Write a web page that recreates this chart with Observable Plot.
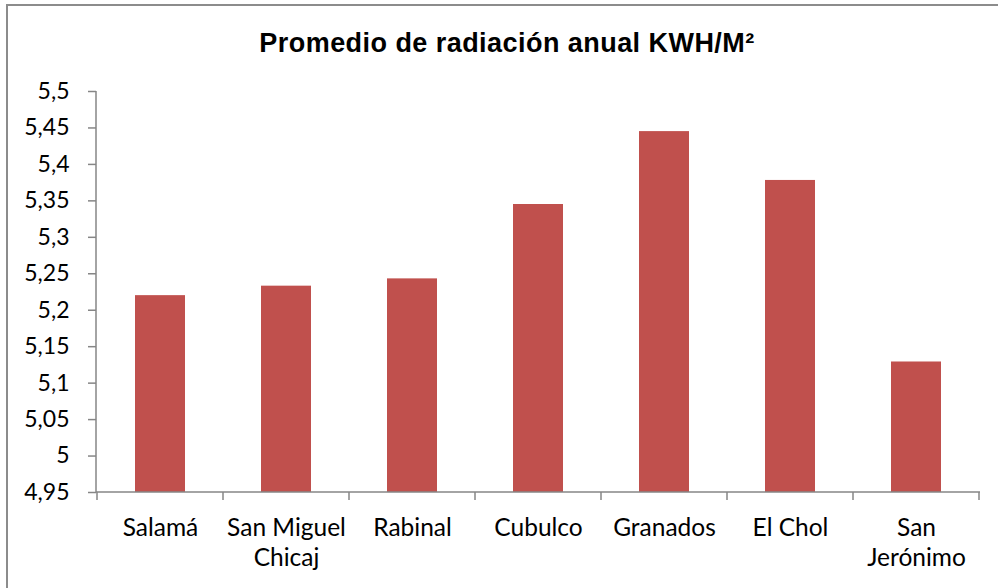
<!DOCTYPE html>
<html>
<head>
<meta charset="utf-8">
<script src="https://cdn.jsdelivr.net/npm/d3@7"></script>
<script src="https://cdn.jsdelivr.net/npm/@observablehq/plot@0.6"></script>
<style>
  html, body { margin: 0; padding: 0; background: #fff; }
  #wrap { position: relative; width: 998px; height: 588px; overflow: hidden; }
  #frame { position: absolute; left: 6px; top: 4px; width: 1000px; height: 600px;
           border-left: 2px solid #8c8c8c; border-top: 2px solid #8c8c8c; box-sizing: border-box; }
  #title { position: absolute; left: 0; width: 1014px; top: 28px; text-align: center;
           font-family: "Liberation Sans", Arial, sans-serif; font-weight: bold; font-size: 27px;
           letter-spacing: 0.45px; color: #000; white-space: nowrap; }
  #chart { position: absolute; left: 0; top: 0; }
</style>
</head>
<body>
<div id="wrap">
  <div id="frame"></div>
  <div id="title">Promedio de radiación anual KWH/M²</div>
  <div id="chart"></div>
</div>
<script>
const categories = ["Salamá", "San Miguel Chicaj", "Rabinal", "Cubulco", "Granados", "El Chol", "San Jerónimo"];
const categoryLabels = ["Salamá", "San Miguel\nChicaj", "Rabinal", "Cubulco", "Granados", "El Chol", "San\nJerónimo"];
const values = [5.220, 5.233, 5.243, 5.345, 5.445, 5.378, 5.129];
const yTicks = [4.95, 5, 5.05, 5.1, 5.15, 5.2, 5.25, 5.3, 5.35, 5.4, 5.45, 5.5];
const yTickLabels = ["4,95", "5", "5,05", "5,1", "5,15", "5,2", "5,25", "5,3", "5,35", "5,4", "5,45", "5,5"];

const data = categories.map((c, i) => ({name: c, value: values[i]}));
const labelOf = new Map(categories.map((c, i) => [c, categoryLabels[i]]));
const yLabelOf = new Map(yTicks.map((t, i) => [t, yTickLabels[i]]));
const axisColor = "#868686";
const yMin = yTicks[0], yMax = yTicks[yTicks.length - 1];

function axisLines(index, scales, vals, dims) {
  const x = scales.x, y = scales.y;
  const bw = typeof x.bandwidth === "function" ? x.bandwidth() : x.bandwidth;
  const step = x(categories[1]) - x(categories[0]);
  const y0 = y(yMin), y1 = y(yMax);
  const xl = dims.marginLeft, xr = dims.width - dims.marginRight;
  const g = d3.create("svg:g").attr("stroke", axisColor).attr("stroke-width", 1.5).attr("fill", "none");
  g.append("line").attr("x1", xl).attr("x2", xl).attr("y1", y1).attr("y2", y0);
  g.append("line").attr("x1", xl).attr("x2", xr).attr("y1", y0).attr("y2", y0);
  const bounds = categories.map(c => x(c) + bw / 2 - step / 2);
  bounds.push(bounds[bounds.length - 1] + step);
  for (const b of bounds) {
    g.append("line").attr("x1", b).attr("x2", b).attr("y1", y0).attr("y2", y0 + 8);
  }
  return g.node();
}

const plot = Plot.plot({
  width: 998,
  height: 588,
  marginLeft: 96,
  marginRight: 18,
  marginTop: 91,
  marginBottom: 96,
  style: {fontFamily: "Lato, sans-serif", fontSize: "24px", color: "#000", background: "transparent"},
  x: {domain: categories, paddingInner: 0.6, paddingOuter: 0.3, label: null},
  y: {domain: [yMin, yMax], label: null},
  marks: [
    Plot.barY(data, {x: "name", y1: yMin, y2: "value", fill: "#C0504D"}),
    Plot.axisY({ticks: yTicks, tickFormat: d => yLabelOf.get(d), tickSize: 8, tickPadding: 19,
                stroke: axisColor, strokeWidth: 1.5, fill: "#000", fontSize: 23, label: null}),
    Plot.axisX({tickSize: 0, tickPadding: 22, tickFormat: d => labelOf.get(d), lineHeight: 1.23,
                fill: "#000", fontSize: 24.5, label: null}),
    axisLines
  ]
});
document.getElementById("chart").appendChild(plot);
</script>
</body>
</html>
